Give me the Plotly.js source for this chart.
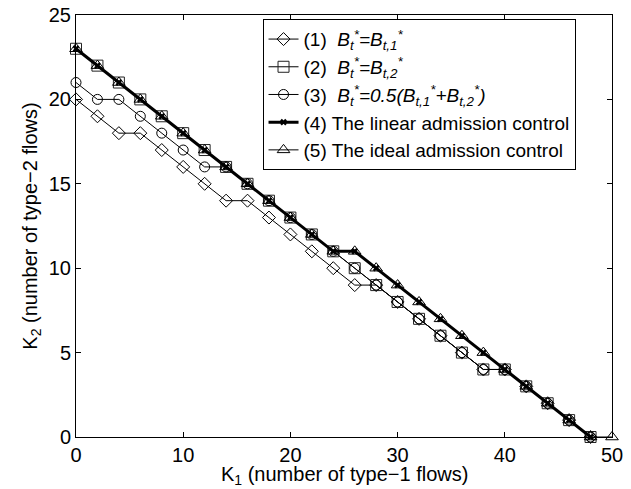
<!DOCTYPE html>
<html>
<head>
<meta charset="utf-8">
<script src="https://cdn.plot.ly/plotly-3.0.1.min.js"></script>
<style>html,body{margin:0;padding:0;background:#fff;}#chart{width:631px;height:489px;}</style>
</head>
<body>
<div id="chart"></div>
<script>
// K1 values (number of type-1 flows)
const k1 = [0,2,4,6,8,10,12,14,16,18,20,22,24,26,28,30,32,34,36,38,40,42,44,46,48,50];
const k1Short = [0,2,4,6,8,10,12,14,16,18,20,22,24,26,28,30,32,34,36,38,40,42,44,46,48];

// (1) Bt* = Bt,1*
const s1 = [20,19,18,18,17,16,15,14,14,13,12,11,10,9,9,8,7,6,5,4,4,3,2,1,0];
// (2) Bt* = Bt,2*
const s2 = [23,22,21,20,19,18,17,16,15,14,13,12,11,10,9,8,7,6,5,4,4,3,2,1,0];
// (3) Bt* = 0.5(Bt,1* + Bt,2*)
const s3 = [21,20,20,19,18,17,16,16,15,14,13,12,11,10,9,8,7,6,5,4,4,3,2,1,0];
// (4) linear admission control
const s4 = [23,22,21,20,19,18,17,16,15,14,13,12,11,11,10,9,8,7,6,5,4,3,2,1,0];
// (5) ideal admission control
const s5 = [23,22,21,20,19,18,17,16,15,14,13,12,11,11,10,9,8,7,6,5,4,3,2,1,0,0];

const names = [
  '(1)  <i>B<sub>t</sub><sup>*</sup>=B<sub>t,1</sub><sup>*</sup></i>',
  '(2)  <i>B<sub>t</sub><sup>*</sup>=B<sub>t,2</sub><sup>*</sup></i>',
  '(3)  <i>B<sub>t</sub><sup>*</sup>=0.5(B<sub>t,1</sub><sup>*</sup>+B<sub>t,2</sub><sup>*</sup>)</i>',
  '(4) The linear admission control',
  '(5) The ideal admission control'
];
const xTitle = 'K<sub>1</sub> (number of type\u22121 flows)';
const yTitle = 'K<sub>2</sub> (number of type\u22122 flows)';

const thin = {color:'black', width:1};
const traces = [
  {x:k1Short, y:s1, name:names[0], mode:'lines+markers', line:thin, cliponaxis:false,
   marker:{symbol:'diamond-open', size:10, color:'black', line:{width:1,color:'black'}}},
  {x:k1Short, y:s2, name:names[1], mode:'lines+markers', line:thin, cliponaxis:false,
   marker:{symbol:'square-open', size:11, color:'#222', line:{width:1,color:'#222'}}},
  {x:k1Short, y:s3, name:names[2], mode:'lines+markers', line:thin, cliponaxis:false,
   marker:{symbol:'circle-open', size:10, color:'black', line:{width:1,color:'black'}}},
  {x:k1Short, y:s4, name:names[3], mode:'lines+markers', line:{color:'black', width:3}, cliponaxis:false,
   marker:{symbol:'x', size:6, color:'black'}},
  {x:k1, y:s5, name:names[4], mode:'lines+markers', line:thin, cliponaxis:false,
   marker:{symbol:'triangle-up-open', size:11, color:'black', line:{width:1,color:'black'}}}
];

const fam = 'Liberation Sans, Arial, Helvetica, sans-serif';
const font = {family:fam, size:20, color:'black'};
const titleFont = {family:fam, size:20, color:'black'};
const axisCommon = {
  showline:true, mirror:'ticks', linecolor:'black', linewidth:1,
  ticks:'inside', ticklen:5, tickcolor:'black', tickwidth:1,
  showgrid:false, zeroline:false, tickfont:font
};

const layout = {
  width:631, height:489,
  margin:{l:76, r:19, t:15, b:52},
  paper_bgcolor:'white', plot_bgcolor:'white',
  font:font,
  showlegend:true,
  legend:{x:0.348, y:0.99, xanchor:'left', yanchor:'top',
    bgcolor:'white', bordercolor:'black', borderwidth:1,
    font:{family:fam, size:19, color:'black'},
    itemwidth:30, tracegroupgap:0},
  xaxis:Object.assign({}, axisCommon, {range:[0,50], tickvals:[0,10,20,30,40,50], ticklabelstandoff:0}),
  yaxis:Object.assign({}, axisCommon, {range:[0,25], tickvals:[0,5,10,15,20,25],
    title:{text:yTitle, font:titleFont, standoff:5}}),
  annotations:[{text:xTitle, xref:'paper', yref:'paper', x:0.5, y:-0.06,
    xanchor:'center', yanchor:'top', showarrow:false, font:titleFont, borderpad:0}]
};

Plotly.newPlot('chart', traces, layout, {displayModeBar:false, staticPlot:true});
</script>
</body>
</html>
